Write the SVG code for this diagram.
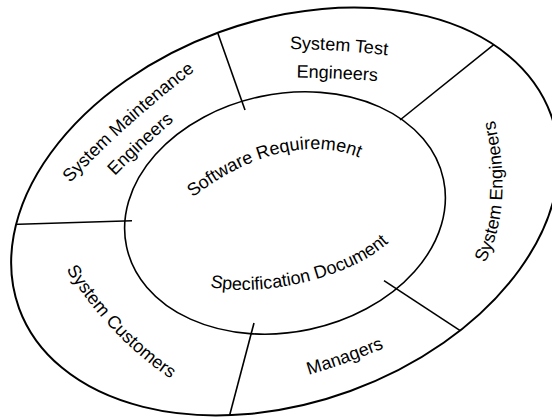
<svg xmlns="http://www.w3.org/2000/svg" xmlns:xlink="http://www.w3.org/1999/xlink" width="552" height="417" viewBox="0 0 552 417">
<style>
.ring{fill:none;stroke:#000;}
.lbl{font-family:"Liberation Sans",Arial,sans-serif;font-size:18px;fill:#000;}
.div{stroke:#000;stroke-width:1.6;fill:none;}
</style>
<defs>
<clipPath id="outerClip"><ellipse cx="0" cy="0" rx="283" ry="191" transform="translate(285 211.5) rotate(-20)"/></clipPath>
<path id="pSM" d="M68.5 184.5 Q127.8 121.8 196.5 69.5"/>
<path id="pSM2" d="M113 178 Q143 147 176 119"/>
<path id="pST" d="M286 49 Q335 49 392 56"/>
<path id="pST2" d="M290 77.5 Q336 78 384 81.5"/>
<path id="pSE" d="M484 265 Q515 206.5 494 118"/>
<path id="pSC" d="M68 272 Q107.4 334.7 168 377"/>
<path id="pMG" d="M309 375 Q347.2 363.4 384 348"/>
<path id="pSR" d="M192 198 C247.2 154.9 309.4 136.5 360 158"/>
<path id="pSD" d="M211 287 C259.9 297.4 347.1 279.8 388 243"/>
</defs>
<rect width="552" height="417" fill="#fff"/>
<ellipse class="ring" cx="0" cy="0" rx="283" ry="191" stroke-width="2" transform="translate(285 211.5) rotate(-20)"/>
<g id="dividers" clip-path="url(#outerClip)">
<line class="div" x1="210.6" y1="12.8" x2="245" y2="110"/>
<line class="div" x1="505" y1="35.7" x2="400" y2="120"/>
<line class="div" x1="384" y1="280.6" x2="480" y2="343.7"/>
<line class="div" x1="254" y1="323" x2="226" y2="429"/>
<line class="div" x1="0" y1="224.8" x2="132" y2="220.8"/>
</g>
<ellipse class="ring" cx="0" cy="0" rx="162" ry="119" fill="#fff" stroke-width="1.6" transform="translate(285 213) rotate(-12)"/>
<g id="node-maintenance"><text class="lbl" text-anchor="middle"><textPath xlink:href="#pSM" href="#pSM" startOffset="50%">System Maintenance</textPath></text><text class="lbl" text-anchor="middle"><textPath xlink:href="#pSM2" href="#pSM2" startOffset="50%">Engineers</textPath></text></g>
<g id="node-test"><text class="lbl" text-anchor="middle"><textPath xlink:href="#pST" href="#pST" startOffset="50%">System Test</textPath></text><text class="lbl" text-anchor="middle"><textPath xlink:href="#pST2" href="#pST2" startOffset="50%">Engineers</textPath></text></g>
<g id="node-sysengineers"><text class="lbl" text-anchor="middle"><textPath xlink:href="#pSE" href="#pSE" startOffset="50%">System Engineers</textPath></text></g>
<g id="node-customers"><text class="lbl" text-anchor="middle"><textPath xlink:href="#pSC" href="#pSC" startOffset="50%">System Customers</textPath></text></g>
<g id="node-managers"><text class="lbl" text-anchor="middle"><textPath xlink:href="#pMG" href="#pMG" startOffset="50%">Managers</textPath></text></g>
<g id="node-srs"><text class="lbl" text-anchor="middle"><textPath xlink:href="#pSR" href="#pSR" startOffset="50%">Software Requirement</textPath></text><text class="lbl" text-anchor="middle"><textPath xlink:href="#pSD" href="#pSD" startOffset="50%">Specification Document</textPath></text></g>
</svg>
